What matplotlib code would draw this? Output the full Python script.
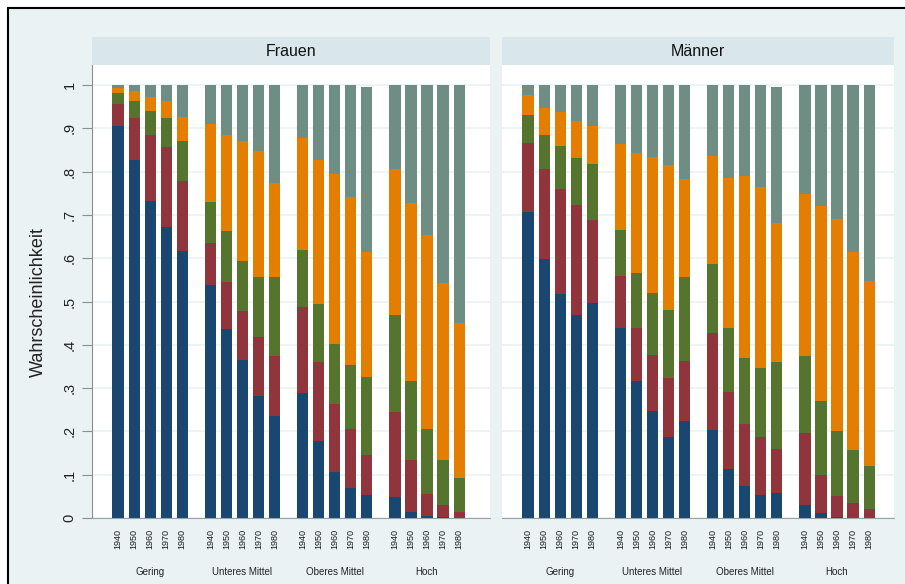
import numpy as np
import matplotlib.pyplot as plt
from matplotlib.patches import Rectangle

plt.rcParams['font.family'] = ['Liberation Sans', 'DejaVu Sans']

# Gruppen und Kohorten
gruppen = ['Gering', 'Unteres Mittel', 'Oberes Mittel', 'Hoch']
kohorten = ['1940', '1950', '1960', '1970', '1980']

# Anteile je Kategorie (Reihenfolge: Gering 1940..1980, Unteres Mittel ..., Oberes Mittel ..., Hoch ...)
frauen_k1 = [0.905, 0.826, 0.732, 0.671, 0.616, 0.538, 0.437, 0.366, 0.282, 0.235,
             0.289, 0.177, 0.106, 0.069, 0.052, 0.049, 0.015, 0.005, 0.002, 0.001]
frauen_k2 = [0.050, 0.098, 0.152, 0.186, 0.162, 0.097, 0.109, 0.112, 0.135, 0.138,
             0.198, 0.184, 0.157, 0.136, 0.094, 0.196, 0.119, 0.050, 0.027, 0.013]
frauen_k3 = [0.027, 0.040, 0.057, 0.067, 0.093, 0.094, 0.117, 0.115, 0.140, 0.183,
             0.133, 0.134, 0.138, 0.148, 0.179, 0.223, 0.183, 0.150, 0.105, 0.079]
frauen_k4 = [0.012, 0.023, 0.032, 0.039, 0.054, 0.182, 0.221, 0.278, 0.291, 0.218,
             0.257, 0.331, 0.394, 0.389, 0.290, 0.339, 0.411, 0.449, 0.409, 0.358]
frauen_k5 = [0.006, 0.013, 0.027, 0.037, 0.075, 0.089, 0.116, 0.129, 0.152, 0.226,
             0.123, 0.174, 0.205, 0.258, 0.380, 0.193, 0.272, 0.346, 0.457, 0.549]

maenner_k1 = [0.707, 0.597, 0.517, 0.468, 0.497, 0.438, 0.316, 0.248, 0.187, 0.224,
              0.204, 0.113, 0.073, 0.053, 0.058, 0.029, 0.011, 0.003, 0.001, 0.001]
maenner_k2 = [0.160, 0.208, 0.242, 0.256, 0.192, 0.122, 0.122, 0.129, 0.137, 0.139,
              0.223, 0.177, 0.145, 0.133, 0.102, 0.167, 0.088, 0.048, 0.034, 0.019]
maenner_k3 = [0.063, 0.079, 0.099, 0.107, 0.129, 0.106, 0.127, 0.142, 0.157, 0.194,
              0.159, 0.148, 0.152, 0.161, 0.201, 0.177, 0.172, 0.150, 0.122, 0.100]
maenner_k4 = [0.048, 0.062, 0.080, 0.085, 0.088, 0.197, 0.277, 0.314, 0.335, 0.225,
              0.250, 0.348, 0.420, 0.418, 0.321, 0.375, 0.450, 0.490, 0.457, 0.428]
maenner_k5 = [0.022, 0.054, 0.062, 0.084, 0.094, 0.137, 0.158, 0.167, 0.184, 0.218,
              0.164, 0.214, 0.210, 0.235, 0.313, 0.252, 0.279, 0.309, 0.386, 0.452]

farben = ['#1a476f', '#90353b', '#55752f', '#e37e00', '#6e8e84']

x = [g * 5.75 + j for g in range(len(gruppen)) for j in range(len(kohorten))]
xlabels = kohorten * len(gruppen)

fig = plt.figure(figsize=(9.05, 5.84), dpi=100)
fig.patch.set_facecolor('white')
fig.add_artist(Rectangle((8 / 905, -0.05), 1.0, 1.05 - 8 / 584,
                         transform=fig.transFigure, facecolor='#eaf2f3',
                         edgecolor='black', lw=1.5, zorder=-5))

panels = [
    ('Frauen', 92, 490, [frauen_k1, frauen_k2, frauen_k3, frauen_k4, frauen_k5]),
    ('Männer', 502, 894, [maenner_k1, maenner_k2, maenner_k3, maenner_k4, maenner_k5]),
]

ax_bottom, ax_top = 518, 65
pxu = 16.05
for i, (titel, x0, x1, werte) in enumerate(panels):
    ax = fig.add_axes([x0 / 905, 1 - ax_bottom / 584, (x1 - x0) / 905, (ax_bottom - ax_top) / 584])
    ax.set_facecolor('white')
    unten = np.zeros(len(x))
    for k, v in enumerate(werte):
        ax.bar(x, v, 0.7, bottom=unten, color=farben[k], lw=0)
        unten += np.array(v)
    ax.set_xlim(-1.625, -1.625 + (x1 - x0) / pxu)
    ax.set_ylim(0, 1 + 20 / 433)
    ax.set_yticks(np.arange(0, 1.01, 0.1))
    ax.yaxis.grid(True, color='#eaf2f3', lw=1.2)
    ax.set_axisbelow(True)
    for s in ['top', 'right']:
        ax.spines[s].set_visible(False)
    ax.spines['bottom'].set_color('#9aa4a8')
    ax.set_xticks(x)
    ax.set_xticklabels(xlabels, rotation=90, fontsize=6.5, color='#1a1a1a')
    ax.tick_params(axis='x', length=0, pad=8)
    if i == 0:
        ax.spines['left'].set_color('#8a8f92')
        ax.set_yticklabels(['0', '.1', '.2', '.3', '.4', '.5', '.6', '.7', '.8', '.9', '1'],
                           rotation=90, va='center', fontsize=10.5, color='#222222')
        ax.tick_params(axis='y', length=7, color='#8a8f92', pad=4)
    else:
        ax.spines['left'].set_visible(False)
        ax.tick_params(axis='y', length=0, labelleft=False)
    for g, name in enumerate(gruppen):
        ax.text(g * 5.75 + 2, -(572 - ax_bottom) / (ax_bottom - ax_top), name,
                transform=ax.get_xaxis_transform(), ha='center', va='center',
                fontsize=7, color='#222222')

    strip = fig.add_axes([x0 / 905, 1 - ax_top / 584, (x1 - x0) / 905, 28 / 584])
    strip.set_facecolor('#d9e6eb')
    strip.set_xticks([])
    strip.set_yticks([])
    for s in strip.spines.values():
        s.set_visible(False)
    strip.text(0.5, 0.5, titel, ha='center', va='center', fontsize=11.5, color='#111111')

fig.text(38 / 905, 1 - 302 / 584, 'Wahrscheinlichkeit', rotation=90,
         ha='center', va='center', fontsize=13, color='#222222')

fig.savefig('out.png', dpi=100)
